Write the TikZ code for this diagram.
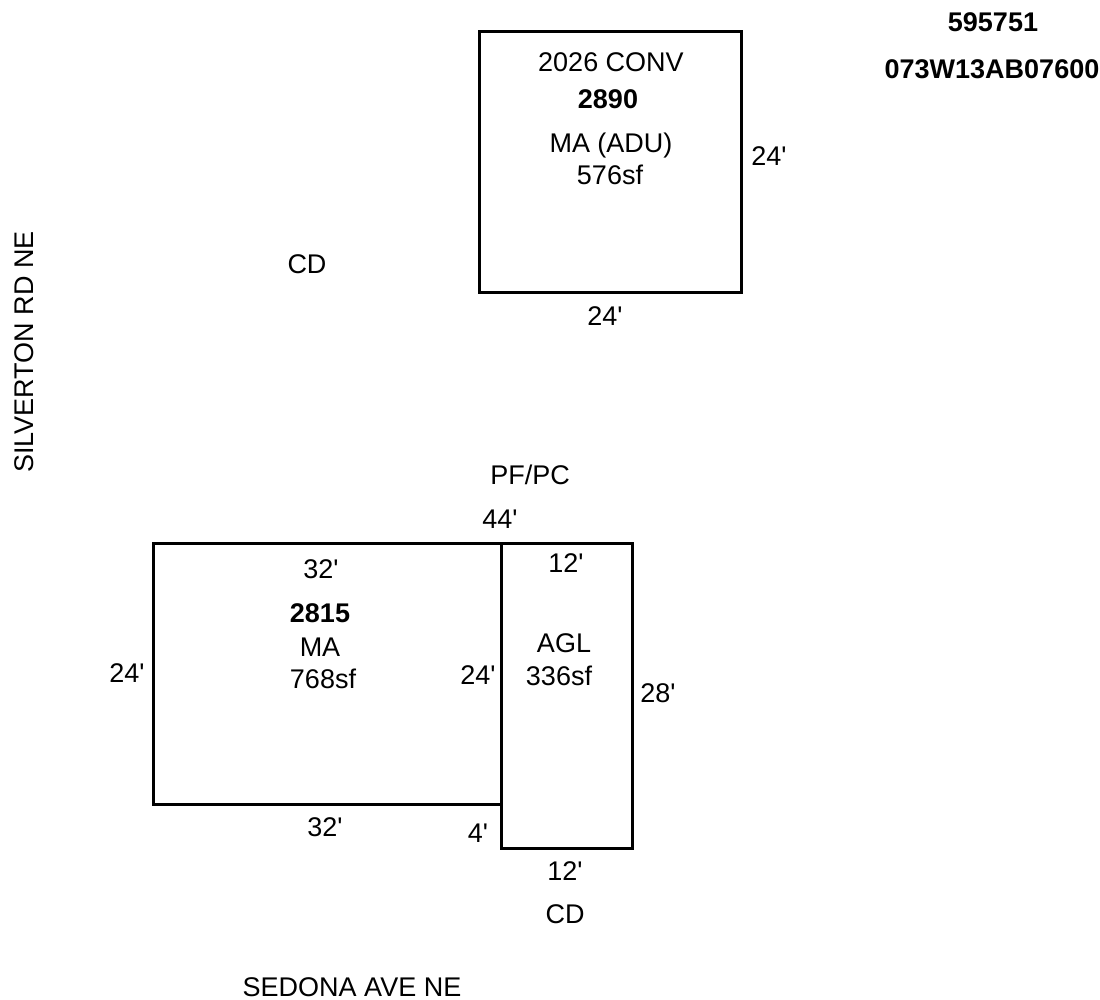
\documentclass[tikz,border=0pt]{standalone}
\usepackage{fontspec}
\setmainfont{Liberation Sans}[Ligatures=TeXOff]
\tikzset{lbl/.style={inner sep=0pt,font=\fontsize{27}{30}\selectfont,anchor=base},
bl/.style={lbl,font=\fontsize{27}{30}\selectfont\bfseries},
wall/.style={draw=black,line width=3pt,line cap=rect}}
\begin{document}
\begin{tikzpicture}[x=1pt,y=-1pt]
\useasboundingbox (0,0) rectangle (1100,1000);
\coordinate (a1) at (479,32); \coordinate (a2) at (741,293);
\coordinate (m1) at (153,543); \coordinate (m2) at (501,804);
\coordinate (g1) at (501,543); \coordinate (g2) at (632,848);
\draw[wall] (a1) rectangle (a2);
\draw[wall] (m1) rectangle (m2);
\draw[wall] (g1) rectangle (g2);
\node[bl] (n1) at (993,32) {595751};
\node[bl] (n2) at (992,79) {073W13AB07600};
\node[lbl] (n3) at (611,72) {2026 CONV};
\node[bl] (n4) at (608,109) {2890};
\node[lbl] (n5) at (611,153) {MA (ADU)};
\node[lbl] (n6) at (610,185) {576sf};
\node[lbl] (n7) at (769,166) {24'};
\node[lbl] (n8) at (605,325) {24'};
\node[lbl] (n9) at (307,273) {CD};
\node[lbl,rotate=90] (n10) at (33,352) {SILVERTON RD NE};
\node[lbl] (n11) at (530,484) {PF/PC};
\node[lbl] (n12) at (500,528) {44'};
\node[lbl] (n13) at (321,578) {32'};
\node[lbl] (n14) at (566,572) {12'};
\node[bl] (n15) at (320,622) {2815};
\node[lbl] (n16) at (320,656) {MA};
\node[lbl] (n17) at (323,688) {768sf};
\node[lbl] (n18) at (127,682) {24'};
\node[lbl] (n19) at (478,684) {24'};
\node[lbl] (n20) at (564,652) {AGL};
\node[lbl] (n21) at (559,685) {336sf};
\node[lbl] (n22) at (658,702) {28'};
\node[lbl] (n23) at (325,836) {32'};
\node[lbl] (n24) at (478,842) {4'};
\node[lbl] (n25) at (565,880) {12'};
\node[lbl] (n26) at (565,923) {CD};
\node[lbl] (n27) at (352,996) {SEDONA AVE NE};
\end{tikzpicture}
\end{document}
